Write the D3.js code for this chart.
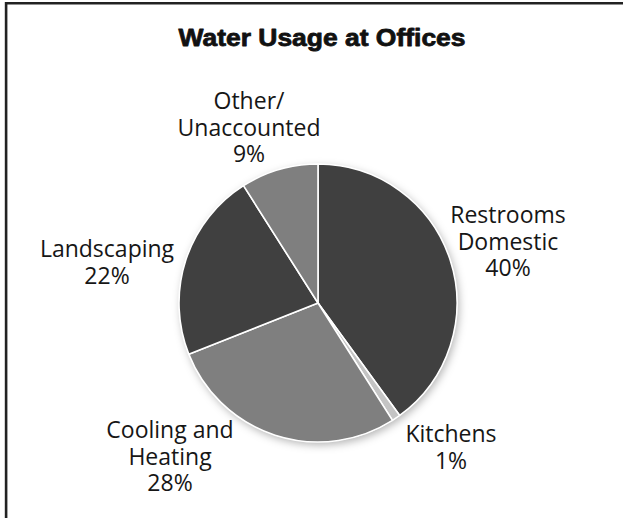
<!DOCTYPE html>
<html>
<head>
<meta charset="utf-8">
<script src="https://cdn.jsdelivr.net/npm/d3@7"></script>
<style>
  html, body { margin: 0; padding: 0; background: #fff; }
  svg { display: block; }
</style>
</head>
<body>
<svg id="chart" width="623" height="518"></svg>
<script>
// ---- data ----
const title = "Water Usage at Offices";
const categories = ["Restrooms\nDomestic", "Kitchens", "Cooling and\nHeating", "Landscaping", "Other/\nUnaccounted"];
const values = [40, 1, 28, 22, 9];

// ---- layout / style ----
const W = 623, H = 518;
const cx = 318, cy = 303, R = 139;
const sliceColors = ["#404040", "#c4c4c4", "#7f7f7f", "#404040", "#7f7f7f"];
// label first-baseline offsets from pie centre (best-fit placement)
const labelOffsets = [[190, -80], [133, 139], [-148, 135], [-211, -46], [-69, -194]];
const lineH = 26.5;

const svg = d3.select("#chart");

// frame
svg.append("line").attr("x1", 5).attr("x2", W).attr("y1", 3.3).attr("y2", 3.3)
  .attr("stroke", "#222").attr("stroke-width", 2.6);
svg.append("line").attr("x1", 6.1).attr("x2", 6.1).attr("y1", 2).attr("y2", H)
  .attr("stroke", "#222").attr("stroke-width", 2.6);

// title
const t = svg.append("text")
  .attr("x", 322).attr("y", 46)
  .attr("text-anchor", "middle")
  .attr("font-family", "'Liberation Sans', Arial, sans-serif")
  .attr("font-weight", 900)
  .attr("font-size", 24)
  .attr("fill", "#111")
  .attr("stroke", "#111")
  .attr("stroke-width", 0.8)
  .attr("stroke-linejoin", "round")
  .text(title);
t.attr("textLength", 287).attr("lengthAdjust", "spacingAndGlyphs");

// shadow filter
const defs = svg.append("defs");
const f = defs.append("filter").attr("id", "sh").attr("x", "-20%").attr("y", "-20%").attr("width", "140%").attr("height", "140%");
f.append("feDropShadow").attr("dx", 2).attr("dy", 3).attr("stdDeviation", 4).attr("flood-color", "#000").attr("flood-opacity", 0.3);

const pie = d3.pie().sort(null).value(d => d)(values);
const arc = d3.arc().innerRadius(0).outerRadius(R);

const g = svg.append("g").attr("transform", `translate(${cx},${cy})`);
g.append("circle").attr("r", R).attr("fill", "#fff").attr("filter", "url(#sh)");
g.selectAll("path.slice").data(pie).join("path")
  .attr("class", "slice")
  .attr("d", arc)
  .attr("fill", (d, i) => sliceColors[i])
  .attr("stroke", "#fff")
  .attr("stroke-width", 1.6)
  .attr("stroke-linejoin", "round");

// labels
const lg = g.append("g")
  .attr("font-family", "'Open Sans', sans-serif")
  .attr("font-size", 23)
  .attr("fill", "#161616")
  .attr("text-anchor", "middle");
categories.forEach((c, i) => {
  const lines = c.split("\n").concat([values[i] + "%"]);
  const txt = lg.append("text")
    .attr("x", labelOffsets[i][0]).attr("y", labelOffsets[i][1]);
  lines.forEach((l, j) => {
    txt.append("tspan").attr("x", labelOffsets[i][0]).attr("dy", j === 0 ? 0 : lineH).text(l);
  });
});
</script>
</body>
</html>
